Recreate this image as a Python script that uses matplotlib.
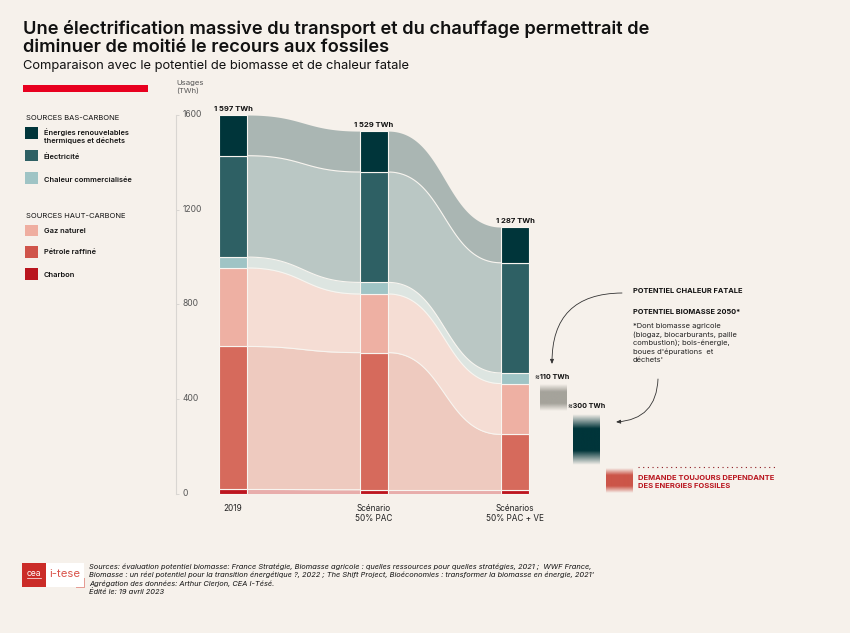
import numpy as np
import matplotlib
matplotlib.use("Agg")
import matplotlib.pyplot as plt
from matplotlib.patches import Rectangle, FancyArrowPatch
from matplotlib.colors import to_rgb
from matplotlib.transforms import ScaledTranslation

# ---------- data ----------
scenarios = ["2019", "Scénario\n50% PAC", "Scénarios\n50% PAC + VE"]
charbon = [17, 16, 16]
petrole = [605, 580, 234]
gaz = [332, 248, 215]
chaleur = [46, 49, 45]
electricite = [429, 467, 466]
renouvelables = [172, 173, 151]
total_labels = ["1 597 TWh", "1 529 TWh", "1 287 TWh"]
yticks = [0, 400, 800, 1200, 1600]
ytick_labels = ["0", "400", "800", "1200", "1600"]
potentiel_x = [2.18, 2.41, 2.643]
potentiel_bas = [349, 120, 0]
potentiel_val = [110, 215, 105]
potentiel_col = ["#a5a39b", "#00353a", "#cc5549"]

series = [charbon, petrole, gaz, chaleur, electricite, renouvelables]
bar_cols = ["#bd1620", "#d66a5c", "#eeb0a3", "#9fc4c5", "#2e6064", "#00353a"]
flow_cols = ["#e8adab", "#eecabf", "#f5ddd4", "#dde5e1", "#bac7c4", "#aab6b3"]

BG = "#f6f1eb"
INK = "#111111"
W, H = 850, 633
F_REG = ["Inter", "DejaVu Sans"]
plt.rcParams["font.family"] = F_REG

fig = plt.figure(figsize=(W / 100, H / 100), dpi=100, facecolor=BG)
ax = fig.add_axes([0, 0, 1, 1], facecolor="none")
PX_X, PX_Y = 141.0, 0.2364
X0, Y0 = 233.0, 493.5
ax.set_xlim(-X0 / PX_X, (W - X0) / PX_X)
ax.set_ylim((Y0 - H) / PX_Y, Y0 / PX_Y)

def T(x, y, s, size=5.4, weight="normal", color=INK, ha="left", va="center", style="normal"):
    fig.text(x / W, 1 - (y + 1) / H, s, fontsize=size, fontweight=weight, color=color,
             ha=ha, va=va, fontstyle=style)

def R(x0, y0, x1, y1, color, lw=0, ec="none"):
    fig.add_artist(Rectangle((x0 / W, 1 - y1 / H), (x1 - x0) / W, (y1 - y0) / H,
                             transform=fig.transFigure, facecolor=color, edgecolor=ec, lw=lw))

def L(xa, ya, color, lw=0.7, ls="-"):
    fig.add_artist(plt.Line2D([x / W for x in xa], [1 - y / H for y in ya], color=color, lw=lw,
                              ls=ls, transform=fig.transFigure))

# ---------- flows ----------
xs = np.arange(len(scenarios))
bw = 28 / PX_X
arr = np.array(series, dtype=float)
cum = np.cumsum(arr, axis=0)
bot = cum - arr
t = np.linspace(0, 1, 120)

def curve(x0, x1, y0, y1):
    xm = (x0 + x1) / 2
    x = (1 - t) ** 3 * x0 + 3 * (1 - t) ** 2 * t * xm + 3 * (1 - t) * t ** 2 * xm + t ** 3 * x1
    y = (1 - t) ** 3 * y0 + 3 * (1 - t) ** 2 * t * y0 + 3 * (1 - t) * t ** 2 * y1 + t ** 3 * y1
    return x, y

for j in range(len(xs) - 1):
    x0, x1 = xs[j] + bw / 2, xs[j + 1] - bw / 2
    for i in range(len(series)):
        xa, top = curve(x0, x1, cum[i, j], cum[i, j + 1])
        _, low = curve(x0, x1, bot[i, j], bot[i, j + 1])
        ax.fill_between(xa, low, top, color=flow_cols[i], lw=0, zorder=2)
        if i < len(series) - 1:
            ax.plot(xa, top, color="#f8f5f0", lw=0.8, zorder=3)

# ---------- bars ----------
for i in range(len(series)):
    ax.bar(xs, arr[i], bottom=bot[i], width=bw, color=bar_cols[i],
           edgecolor="#f8f5f0", linewidth=0.8, zorder=4)
for x, top, lab in zip(xs, cum[-1], total_labels):
    ax.annotate(lab, (x, top), xytext=(0, 2.5), textcoords="offset points", ha="center",
                va="bottom", fontsize=5.5, fontweight="bold", color=INK, zorder=6)

# ---------- axes ----------
for s in ["top", "left"]:
    ax.spines[s].set_visible(False)
ax.spines["right"].set_position(("data", (176 - X0) / PX_X))
ax.spines["right"].set_bounds(0, 1600)
ax.spines["right"].set_color("#d9d6d2")
ax.spines["right"].set_linewidth(0.8)
ax.yaxis.tick_right()
ax.set_yticks(yticks, ytick_labels)
ax.tick_params(axis="y", direction="out", length=2.5, width=0.7, color="#d9d6d2",
               labelcolor="#555555", labelsize=6.1, pad=2)
for lb in ax.get_yticklabels():
    lb.set_transform(lb.get_transform() + ScaledTranslation(0, 1.5 / 100, fig.dpi_scale_trans))
ax.spines["bottom"].set_position(("data", 0))
ax.spines["bottom"].set_visible(False)
ax.set_xticks(xs, scenarios)
ax.tick_params(axis="x", length=0, labelsize=5.9, pad=7.5, labelcolor="#222222")
for lb in ax.get_xticklabels():
    lb.set_linespacing(1.2)
T(176, 82, "Usages", size=5.6, color="#555555")
T(176, 90, "(TWh)", size=5.6, color="#555555")

# ---------- gradient blocks ----------
ramp = np.clip(np.minimum(np.linspace(0, 1, 100), np.linspace(1, 0, 100)) / 0.28, 0, 1)
for x, b, v, c in zip(potentiel_x, potentiel_bas, potentiel_val, potentiel_col):
    img = np.zeros((100, 1, 4))
    img[:, :, :3] = to_rgb(c)
    img[:, 0, 3] = ramp
    ax.imshow(img, extent=[x, x + 27 / PX_X, b, b + v], aspect="auto", zorder=4,
              interpolation="bilinear")
ax.set_xlim(-X0 / PX_X, (W - X0) / PX_X)
ax.set_ylim((Y0 - H) / PX_Y, Y0 / PX_Y)

# ---------- titles ----------
T(23, 27.5, "Une électrification massive du transport et du chauffage permettrait de", size=13.15, weight="semibold")
T(23, 46.5, "diminuer de moitié le recours aux fossiles", size=13.15, weight="semibold")
T(23, 65, "Comparaison avec le potentiel de biomasse et de chaleur fatale", size=9.3)
R(23, 85, 148, 92, "#e8001f")

# ---------- legend ----------
T(26, 117, "SOURCES BAS-CARBONE", size=5.45)
T(26, 215, "SOURCES HAUT-CARBONE", size=5.45)
for (y0, y1, c) in [(127, 139, "#00353a"), (150, 161.5, "#2e6064"), (172, 184, "#9fc4c5"),
                    (225, 236.5, "#efaea0"), (246, 257.5, "#d0544a"), (268, 280, "#b9151e")]:
    R(25, y0, 37.5, y1, c)
for y, s in [(131, "Énergies renouvelables"), (140, "thermiques et déchets"), (156, "Électricité"),
             (179, "Chaleur commercialisée"), (230, "Gaz naturel"), (251, "Pétrole raffiné"),
             (274, "Charbon")]:
    T(44, y, s, size=5.35, weight="semibold")

# ---------- annotations ----------
T(535, 376, "≈110 TWh", size=5.2, weight="bold")
T(568, 405, "≈300 TWh", size=5.1, weight="bold")
T(633, 290, "POTENTIEL CHALEUR FATALE", size=5.35, weight="bold")
T(633, 311, "POTENTIEL BIOMASSE 2050*", size=5.3, weight="bold")
for y, s in zip([325, 333.5, 342, 350.5, 359],
                ["*Dont biomasse agricole", "(biogaz, biocarburants, paille", "combustion); bois-énergie,",
                 "boues d'épurations  et", "déchets'"]):
    T(633, y, s, size=5.45, color="#222222")
T(638, 477, "DEMANDE TOUJOURS DEPENDANTE", size=5.45, weight="bold", color="#b9151e")
T(638, 485.5, "DES ENERGIES FOSSILES", size=5.45, weight="bold", color="#b9151e")
L([638, 775], [467, 467], "#8c1a20", lw=0.8, ls=(0, (1, 3.2)))

def arrow(a, b, rad):
    fig.add_artist(FancyArrowPatch((a[0] / W, 1 - a[1] / H), (b[0] / W, 1 - b[1] / H),
                                   transform=fig.transFigure, arrowstyle="-|>,head_length=2.6,head_width=1.1",
                                   connectionstyle=f"arc3,rad={rad}", color="#333333", lw=0.6,
                                   shrinkA=0, shrinkB=0))
arrow((622, 293), (552, 364), 0.5)
arrow((658, 379), (616, 422), -0.45)

# ---------- logo + sources ----------
R(22, 563, 46, 587, "#cb2c28")
R(46, 563, 84, 587, "#ffffff")
T(34, 572.5, "cea", size=6.2, color="#ffffff", ha="center")
L([27, 41], [578, 578], "#ffffff", lw=0.5)
T(65, 573, "i-tese", size=8.2, color="#d9534a", ha="center")
L([76, 84, 84], [587, 587, 578], "#e59a92", lw=0.7)
for y, s in zip([565.5, 573.5, 582.5, 591],
                ["Sources: évaluation potentiel biomasse: France Stratégie, Biomasse agricole : quelles ressources pour quelles stratégies, 2021 ;  WWF France,",
                 "Biomasse : un réel potentiel pour la transition énergétique ?, 2022 ; The Shift Project, Bioéconomies : transformer la biomasse en énergie, 2021'",
                 "Agrégation des données: Arthur Clerjon, CEA I-Tésé.",
                 "Édité le: 19 avril 2023"]):
    T(89, y, s, size=5.36, style="italic", color="#111111")

fig.savefig("out.png", dpi=100, facecolor=BG)
